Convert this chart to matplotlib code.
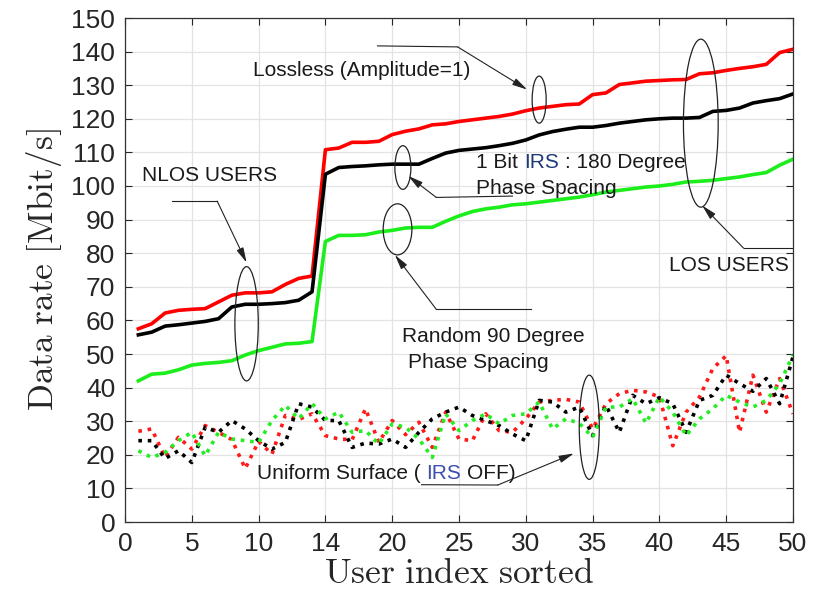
import numpy as np
import matplotlib
matplotlib.use('Agg')
import matplotlib.pyplot as plt
import matplotlib.transforms as mtransforms
from matplotlib.patches import Ellipse

plt.rcParams['mathtext.fontset'] = 'cm'
plt.rcParams['font.family'] = ['Liberation Sans', 'DejaVu Sans']

users = np.arange(1, 51)

# solid curves (IRS on)
lossless = [57.5, 59, 62.2, 63, 63.3, 63.5, 65.5, 67.5, 68.2, 68.2,
            68.5, 70.7, 72.5, 73.2, 110.8, 111.3, 113, 113, 113.3, 115.3,
            116.3, 117, 118.2, 118.5, 119.2, 119.7, 120.2, 120.7, 121.4, 122.4,
            123.2, 123.7, 124.2, 124.4, 127.2, 127.7, 130.2, 130.7, 131.2, 131.4,
            131.6, 131.7, 133.4, 133.7, 134.4, 135, 135.5, 136.2, 139.7, 140.7]
one_bit = [55.7, 56.5, 58.3, 58.7, 59.2, 59.7, 60.5, 64, 64.8, 64.8,
           65, 65.3, 66, 68.5, 103.5, 105.5, 105.8, 106, 106.3, 106.5,
           106.5, 106.5, 108.2, 109.8, 110.6, 111, 111.4, 112, 112.7, 113.7,
           115.2, 116.2, 116.9, 117.5, 117.5, 118, 118.7, 119.2, 119.7, 120,
           120.2, 120.2, 120.4, 122.2, 122.5, 123.2, 124.7, 125.4, 126, 127.4]
random90 = [42, 44, 44.3, 45.3, 46.7, 47.2, 47.5, 48, 49.7, 51,
            52, 53, 53.2, 53.7, 83.5, 85.3, 85.3, 85.5, 86.3, 86.8,
            87.5, 87.7, 87.7, 89.5, 91.1, 92.4, 93.2, 93.7, 94.4, 94.7,
            95.2, 95.7, 96.2, 96.7, 97.4, 98.2, 98.7, 99.2, 99.7, 100,
            100.5, 101.2, 101.4, 101.7, 102.2, 102.7, 103.4, 104, 106.2, 108]

# dotted curves (uniform surface, IRS off)
off_red = [27, 27.7, 19.2, 25.2, 21.7, 28.7, 26.7, 24.5, 15.9, 24,
           20.2, 31.7, 30.5, 32.2, 25.7, 24.7, 24.5, 33.7, 23.7, 30.2,
           26, 29.7, 22.2, 32.7, 24.7, 24.2, 32.2, 27.2, 26.7, 30.7,
           35.7, 36.2, 36.5, 35.7, 27.7, 35.2, 38.2, 39.2, 38.7, 37.2,
           22.7, 32.7, 37.2, 45.7, 49.5, 26.7, 43.7, 32.7, 42.7, 32.2]
off_black = [24.2, 24.2, 18.9, 21.2, 17.7, 28.2, 26.7, 30.2, 27.7, 24.2,
             21.7, 23.7, 35.2, 34.2, 30.2, 30.2, 22.2, 23.5, 23.2, 24.7,
             22.2, 26.7, 30.7, 32.7, 34.2, 31.7, 30.2, 28.7, 26.2, 24.2,
             36.2, 35.7, 32.7, 34.2, 25.7, 34.7, 26.7, 37.7, 35.2, 37,
             35.2, 26.7, 36.2, 37.7, 43.7, 41.2, 38.9, 42.7, 35.2, 49.2]
off_green = [21.2, 19.2, 20.7, 24.2, 26.7, 19.7, 26.7, 24.7, 24.2, 23.7,
             30.2, 34.7, 30.7, 35.2, 30.7, 32.7, 26.7, 27.2, 23.2, 29.2,
             28.2, 24.7, 19.2, 32.2, 27.2, 30.2, 32.2, 29.2, 31.7, 32.2,
             35.7, 27.7, 30.7, 29.4, 25.2, 34.2, 34.2, 36.7, 29.4, 37.2,
             32.7, 25.7, 30.7, 33.7, 37.7, 35.7, 34.2, 36.2, 41.2, 49.7]

xtick_pos = [0, 5, 10, 15, 20, 25, 30, 35, 40, 45, 50]
xtick_lab = ['0', '5', '10', '14', '20', '25', '30', '35', '40', '45', '50']

fig = plt.figure(figsize=(8.13, 6.13), dpi=100)
ax = fig.add_axes([125/813, 1-522/613, 668/813, 504/613])

dot = (0, (1, 1.6))
ax.plot(users, off_red, color='#ff1a1a', lw=2.6, ls=dot)
ax.plot(users, off_black, color='k', lw=2.6, ls=dot)
ax.plot(users, off_green, color='#22ee22', lw=2.6, ls=dot)
ax.plot(users, lossless, color='#ff0000', lw=2.6)
ax.plot(users, one_bit, color='k', lw=2.6)
ax.plot(users, random90, color='#1bee1b', lw=2.6)

ax.set_xlim(0, 50)
ax.set_ylim(0, 150)
ax.set_xticks(xtick_pos)
ax.set_xticklabels(xtick_lab)
ax.set_yticks(np.arange(0, 151, 10))
ax.grid(True, color='#e3e3e3', lw=0.9)
ax.set_axisbelow(True)
ax.tick_params(direction='in', top=True, right=True, length=5, width=0.8,
               labelsize=19, colors='#262626', pad=7)
for s in ax.spines.values():
    s.set_color('#333333')
    s.set_linewidth(0.9)

ax.set_xlabel(r'$\mathrm{User\ index\ sorted}$', fontsize=25.5, color='#262626', labelpad=1)
ax.set_ylabel(r'$\mathrm{Data\ rate\ [Mbit/s]}$', fontsize=25.5, color='#262626', labelpad=5)

# ellipses
for cx, cy, w, h in [(9.1, 59, 1.75, 34), (31.0, 125.7, 1.05, 14), (20.8, 105.5, 1.2, 13),
                     (20.4, 87.1, 2.15, 15.2), (43.1, 118.7, 2.6, 50), (34.75, 28.2, 1.5, 31)]:
    ax.add_patch(Ellipse((cx, cy), w, h, fill=False, ec='#222222', lw=0.9, zorder=5))

# callout lines with arrows
arrow = dict(arrowstyle='-|>,head_length=0.9,head_width=0.22', lw=0.8, color='#222222',
             shrinkA=0, shrinkB=0)
callouts = [((18.9, 141.7), (24.9, 141.4), (30.1, 128.7)),
            ((3.5, 95.5), (6.9, 95.5), (9.1, 77.2)),
            ((29.0, 97.0), (23.3, 96.6), (21.2, 103.0)),
            ((30.4, 63.3), (23.3, 63.3), (20.2, 79.5)),
            ((50.0, 81.5), (46.3, 81.5), (43.2, 94.2)),
            ((22.2, 11.1), (27.9, 11.0), (33.6, 20.4))]
for a, b, tip in callouts:
    ax.plot([a[0], b[0]], [a[1], b[1]], color='#222222', lw=0.8, zorder=5)
    ax.annotate('', xy=tip, xytext=b, arrowprops=arrow, zorder=5)

fs = 15
tc = '#1a1a1a'
ax.text(17.7, 134.5, 'Lossless (Amplitude=1)', fontsize=fs, color=tc, ha='center', va='center')
ax.text(6.35, 103.1, 'NLOS USERS', fontsize=fs, color=tc, ha='center', va='center')
ax.text(45.2, 76.3, 'LOS USERS', fontsize=fs, color=tc, ha='center', va='center')
ax.text(20.7, 55.2, 'Random 90 Degree', fontsize=fs, color=tc, ha='left', va='center')
ax.text(21.15, 47.6, 'Phase Spacing', fontsize=fs, color=tc, ha='left', va='center')
ax.text(26.3, 99.4, 'Phase Spacing', fontsize=fs, color=tc, ha='left', va='center')

fig.canvas.draw()
rend = fig.canvas.get_renderer()


def width_of(s):
    t = ax.text(0, 0, s, fontsize=fs)
    w = t.get_window_extent(rend).width
    t.remove()
    return w


space = width_of('x x') - width_of('xx')


def rich(x, y, parts):
    dx = 0
    for s, c, gap in parts:
        dx += gap * space
        tr = mtransforms.offset_copy(ax.transData, fig=fig, x=dx, y=0, units='dots')
        t = ax.text(x, y, s, fontsize=fs, color=c, ha='left', va='baseline', transform=tr)
        dx += t.get_window_extent(rend).width


rich(26.3, 105.4, [('1 Bit', tc, 0), ('IRS', '#1f3a7a', 1), (': 180 Degree', tc, 1)])
rich(9.85, 12.9, [('Uniform Surface (', tc, 0), ('IRS', '#3a4fb0', 1), ('OFF)', tc, 1)])

fig.savefig('out.png', dpi=100)
